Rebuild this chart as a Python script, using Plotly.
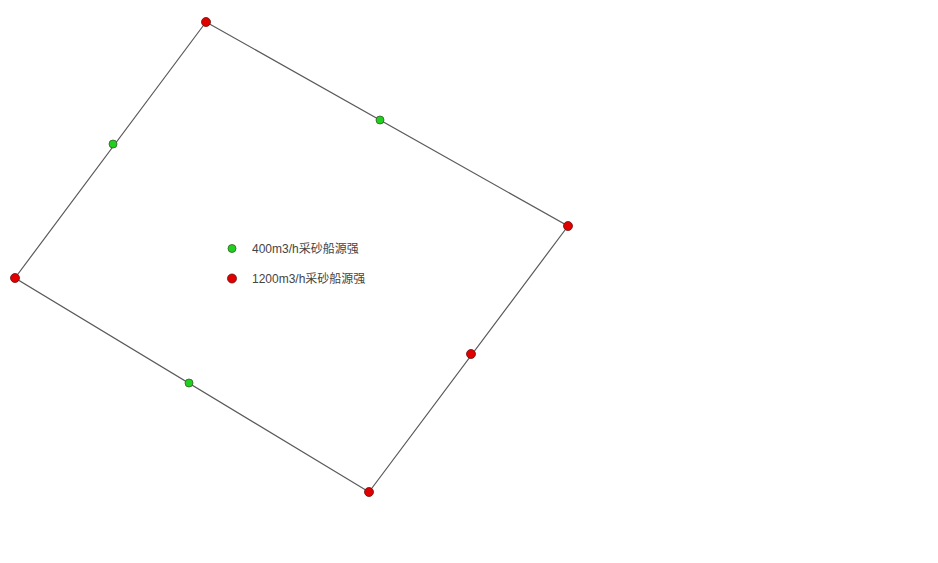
import plotly.graph_objects as go

W, H = 938, 563
OFF = 8  # page body margin in the browser

# Boundary vertices (pixel-like plan coordinates)
boundary_x = [206, 568, 369, 15, 206]
boundary_y = [22, 226, 492, 278, 22]

# 400 m3/h dredger source points (green)
green_x = [113, 380, 189]
green_y = [144, 120, 383]

# 1200 m3/h dredger source points (red)
red_x = [206, 568, 369, 15, 471]
red_y = [22, 226, 492, 278, 354]

names = ["400m3/h采砂船源强", "1200m3/h采砂船源强"]

fig = go.Figure()
fig.add_trace(go.Scatter(x=boundary_x, y=boundary_y, mode="lines",
                         line=dict(color="#5a5a5a", width=1.2),
                         showlegend=False, hoverinfo="skip"))
fig.add_trace(go.Scatter(x=green_x, y=green_y, mode="markers", name=names[0],
                         legendgroup="g",
                         marker=dict(color="#1fd01f", size=8,
                                     line=dict(color="#3a5a2a", width=0.8))))
fig.add_trace(go.Scatter(x=red_x, y=red_y, mode="markers", name=names[1],
                         legendgroup="r",
                         marker=dict(color="#e00000", size=9,
                                     line=dict(color="#6a1010", width=0.8))))

fig.update_layout(
    width=W, height=H,
    margin=dict(l=0, r=0, t=0, b=0),
    paper_bgcolor="white", plot_bgcolor="white",
    xaxis=dict(range=[OFF, W + OFF], visible=False, fixedrange=True),
    yaxis=dict(range=[H + OFF, OFF], visible=False, fixedrange=True),
    font=dict(family="Liberation Sans, Noto Sans CJK SC, sans-serif", size=12, color="#444444"),
    legend=dict(x=204 / W, y=1 - 226 / H, xanchor="left", yanchor="top",
                bgcolor="rgba(0,0,0,0)", tracegroupgap=11,
                font=dict(size=12, color="#444444")),
    showlegend=True,
)

fig.write_html("out.html")
